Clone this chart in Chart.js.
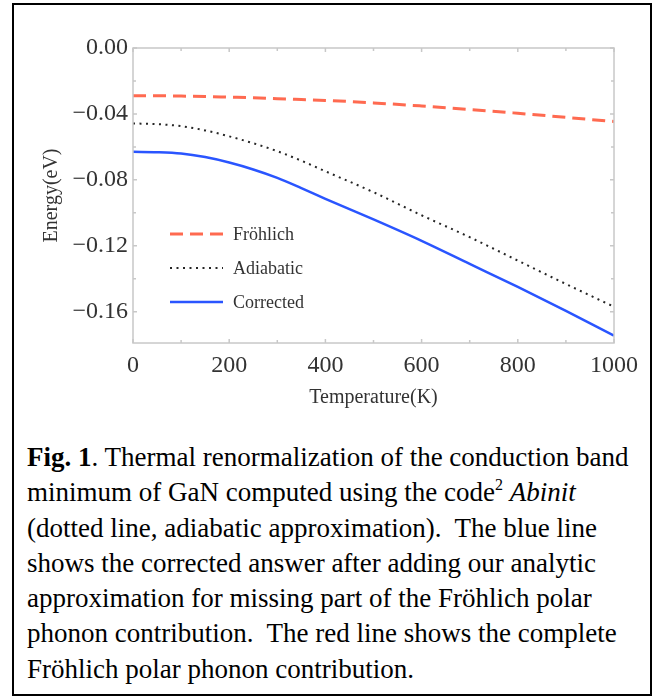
<!DOCTYPE html>
<html lang="en">
<head>
<meta charset="UTF-8">
<title>GaN conduction band renormalization</title>
<script src="https://cdn.jsdelivr.net/npm/chart.js"></script>
<style>
  body { margin: 0; background: #fff; width: 656px; height: 696px; position: relative; overflow: hidden; }
  #box { position: absolute; left: 12px; top: 3px; width: 640px; height: 693px; box-sizing: border-box; border: 2px solid #000; }
  #wrap { position: absolute; left: 0; top: 0; width: 656px; height: 420px; }
  #caption { position: absolute; left: 27px; top: 440px; font-family: "Liberation Serif", "Times New Roman", serif;
             font-size: 27px; line-height: 35.3px; color: #000; white-space: nowrap; }
  #caption sup { font-size: 16px; line-height: 0; vertical-align: 11px; }
</style>
</head>
<body>
<div id="box"></div>
<div id="wrap"><canvas id="myChart" width="656" height="420"></canvas></div>
<div id="caption">
<b>Fig. 1</b>. Thermal renormalization of the conduction band<br>
minimum of GaN computed using the code<sup>2</sup> <i>Abinit</i><br>
(dotted line, adiabatic approximation).&nbsp; The blue line<br>
shows the corrected answer after adding our analytic<br>
approximation for missing part of the Fröhlich polar<br>
phonon contribution.&nbsp; The red line shows the complete<br>
Fröhlich polar phonon contribution.
</div>
<script>
// temperature (K) and energy (eV)
const temps = [0, 50, 100, 150, 200, 250, 300, 350, 400, 500, 600, 700, 800, 900, 1000];
const frohlich = [-0.0290, -0.0290, -0.0292, -0.0294, -0.0298, -0.0302, -0.0308, -0.0313, -0.0318, -0.0333, -0.0352, -0.0373, -0.0396, -0.0421, -0.0446];
const adiabatic = [-0.0458, -0.0462, -0.0474, -0.0500, -0.0536, -0.0578, -0.0626, -0.0684, -0.0748, -0.0875, -0.1015, -0.1148, -0.1290, -0.1432, -0.1570];
const corrected = [-0.0630, -0.0632, -0.0640, -0.0662, -0.0695, -0.0737, -0.0788, -0.0850, -0.0915, -0.1040, -0.1170, -0.1310, -0.1450, -0.1595, -0.1745];

const seriesNames = ['Fröhlich', 'Adiabatic', 'Corrected'];
const xTicks = [0, 200, 400, 600, 800, 1000];
const yTicks = [0, -0.04, -0.08, -0.12, -0.16];
const xMinor = [100, 300, 500, 700, 900];
const yMinor = [-0.02, -0.06, -0.10, -0.14];

const serif = '"Liberation Serif", "Times New Roman", serif';

function pts(ys) {
  return temps.map((t, i) => ({ x: t, y: ys[i] }));
}

// mathematica-like frame with inward ticks, plus the legend inside the plot
const framePlugin = {
  id: 'frame',
  afterDatasetsDraw(chart) {
    const { ctx, chartArea: a, scales: { x, y } } = chart;
    ctx.save();
    ctx.strokeStyle = '#c8c8c8';
    ctx.lineWidth = 1.5;
    ctx.strokeRect(a.left, a.top, a.right - a.left, a.bottom - a.top);
    ctx.beginPath();
    xTicks.concat(xMinor).forEach(v => {
      const px = x.getPixelForValue(v);
      const len = xTicks.includes(v) ? 4 : 3;
      ctx.moveTo(px, a.bottom); ctx.lineTo(px, a.bottom - len);
      ctx.moveTo(px, a.top); ctx.lineTo(px, a.top + len);
    });
    yTicks.concat(yMinor).forEach(v => {
      const py = y.getPixelForValue(v);
      const len = yTicks.includes(v) ? 4 : 3;
      ctx.moveTo(a.left, py); ctx.lineTo(a.left + len, py);
      ctx.moveTo(a.right, py); ctx.lineTo(a.right - len, py);
    });
    ctx.stroke();

    // legend
    const lx = a.left + 37, ly = a.top + 186, gap = 34;
    chart.data.datasets.forEach((ds, i) => {
      const yy = ly + i * gap;
      ctx.beginPath();
      ctx.strokeStyle = ds.borderColor;
      ctx.lineWidth = ds.borderWidth;
      ctx.setLineDash(ds.borderDash || []);
      ctx.moveTo(lx, yy); ctx.lineTo(lx + 53, yy);
      ctx.stroke();
      ctx.setLineDash([]);
      ctx.fillStyle = '#333';
      ctx.font = '18px ' + serif;
      ctx.textBaseline = 'middle';
      ctx.fillText(ds.label, lx + 63, yy + 1);
    });
    ctx.restore();
  }
};

const ctx = document.getElementById('myChart');
new Chart(ctx, {
  type: 'line',
  data: {
    datasets: [
      { label: seriesNames[0], data: pts(frohlich), borderColor: '#ff6a50', borderWidth: 3, borderDash: [13, 7] },
      { label: seriesNames[1], data: pts(adiabatic), borderColor: '#262626', borderWidth: 2, borderDash: [2, 4.5] },
      { label: seriesNames[2], data: pts(corrected), borderColor: '#2a55ff', borderWidth: 2.5 }
    ]
  },
  options: {
    responsive: false,
    animation: false,
    cubicInterpolationMode: 'monotone',
    elements: { point: { radius: 0 } },
    layout: { padding: { left: 0, top: 48, right: 42, bottom: 0 } },
    plugins: { legend: { display: false }, tooltip: { enabled: false } },
    scales: {
      x: {
        type: 'linear', min: 0, max: 1000,
        afterBuildTicks: s => { s.ticks = xTicks.map(v => ({ value: v })); },
        afterFit: s => { s.height = 77; },
        grid: { display: false, tickLength: 0 },
        border: { display: false },
        ticks: { font: { family: serif, size: 24 }, color: '#333', padding: 8, maxRotation: 0, callback: v => String(v) },
        title: { display: true, text: 'Temperature(K)', font: { family: serif, size: 20 }, color: '#333', padding: { top: 0, bottom: 10 } }
      },
      y: {
        type: 'linear', min: -0.179, max: 0,
        afterBuildTicks: s => { s.ticks = yTicks.map(v => ({ value: v })); },
        afterFit: s => { s.width = 133; },
        grid: { display: false, tickLength: 0 },
        border: { display: false },
        ticks: {
          font: { family: serif, size: 24 }, color: '#333', padding: 5,
          callback: v => v === 0 ? '0.00' : '\u2212' + Math.abs(v).toFixed(2)
        },
        title: { display: true, text: 'Energy(eV)', font: { family: serif, size: 20 }, color: '#333', padding: { top: 40, bottom: 0 } }
      }
    }
  },
  plugins: [framePlugin]
});
</script>
</body>
</html>
